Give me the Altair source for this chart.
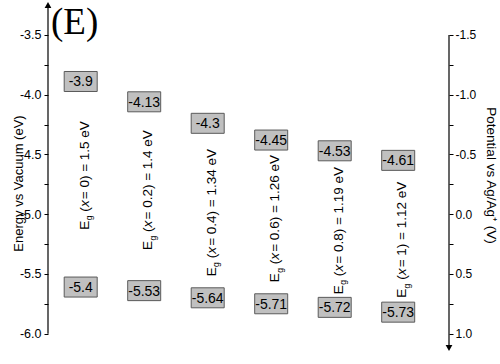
import altair as alt
import pandas as pd

# ---- data ----
compositions = [0, 0.2, 0.4, 0.6, 0.8, 1]
cb_edges = [-3.9, -4.13, -4.3, -4.45, -4.53, -4.61]      # eV (boxes in upper row)
vb_edges = [-5.4, -5.53, -5.64, -5.71, -5.72, -5.73]     # eV (boxes in lower row)
band_gaps = [1.5, 1.4, 1.34, 1.26, 1.19, 1.12]           # eV
# where each value box sits on the energy axis in the figure (eV)
cb_box_ev = [-3.89, -4.06, -4.24, -4.38, -4.47, -4.55]
vb_box_ev = [-5.61, -5.64, -5.70, -5.75, -5.78, -5.82]
# where each rotated band-gap label starts on the energy axis (eV)
gap_text_ev = [-5.13, -5.30, -5.52, -5.57, -5.67, -5.70]

energy_ticks = [-3.5, -3.75, -4.0, -4.25, -4.5, -4.75, -5.0, -5.25, -5.5, -5.75, -6.0]
potential_ticks = [-1.5, -1.25, -1.0, -0.75, -0.5, -0.25, 0.0, 0.25, 0.5, 0.75, 1.0]

E_DOMAIN = [-6.12, -3.25]
X_DOMAIN = [-0.103, 1.16]
P_DOMAIN = [-E_DOMAIN[1] - 5.0, -E_DOMAIN[0] - 5.0]   # potential = -E - 5

FONT = "Liberation Sans"

boxes = pd.DataFrame({
    "comp": compositions + compositions,
    "ev": cb_box_ev + vb_box_ev,
    "label": [f"{v:g}" for v in cb_edges + vb_edges],
})

gaps = pd.DataFrame({
    "comp": compositions,
    "ev": gap_text_ev,
    "rest": [f" = {c:g}) = {g:g} eV" for c, g in zip(compositions, band_gaps)],
})

left_line = pd.DataFrame({"comp": [X_DOMAIN[0]], "ev": [E_DOMAIN[1]], "ev2": [energy_ticks[-1]]})
left_arrow = pd.DataFrame({"comp": [X_DOMAIN[0]], "ev": [E_DOMAIN[1]]})
right_line = pd.DataFrame({"comp": [X_DOMAIN[1]], "pot": [potential_ticks[0]], "pot2": [P_DOMAIN[1]]})
right_arrow = pd.DataFrame({"comp": [X_DOMAIN[1]], "pot": [P_DOMAIN[1]]})
panel = pd.DataFrame({"t": ["(E)"]})

x_enc = alt.X("comp:Q", scale=alt.Scale(domain=X_DOMAIN, nice=False, zero=False), axis=None)

half_expr = "abs(datum.value*2 - round(datum.value*2)) < 0.01"
axis_left = alt.Axis(
    values=energy_ticks, orient="left", domain=False, grid=False,
    ticks=True, tickSize=4, tickColor="black", tickWidth=1,
    labelExpr=f"{half_expr} ? '-' + format(abs(datum.value), '.1f') : ''",
    labelFont=FONT, labelFontSize=12.5, labelColor="black", labelPadding=3, labelOverlap=False,
    title="Energy vs Vacuum (eV)", titleFont=FONT, titleFontSize=13, titleFontWeight="normal",
    titleColor="black", titleAngle=270, titleX=-30, titleY=178, titleAlign="center",
    titleBaseline="middle",
)
axis_right = alt.Axis(
    values=potential_ticks, orient="right", domain=False, grid=False,
    ticks=True, tickSize=4, tickColor="black", tickWidth=1,
    labelExpr=f"{half_expr} ? (datum.value < -0.001 ? '-' : '') + format(abs(datum.value), '.1f') : ''",
    labelFont=FONT, labelFontSize=12, labelColor="black", labelPadding=2, labelOverlap=False,
    title="Potential vs Ag/Ag\u207a (V)", titleFont=FONT, titleFontSize=13.5, titleFontWeight="normal",
    titleColor="black", titleAngle=90, titleX=41, titleY=170, titleAlign="center",
    titleBaseline="middle",
)

y_e = alt.Y("ev:Q", scale=alt.Scale(domain=E_DOMAIN, nice=False, zero=False), axis=axis_left)
y_p = alt.Y("pot:Q", scale=alt.Scale(domain=P_DOMAIN, nice=False, zero=False, reverse=True), axis=axis_right)

box_shape = "M-1,-0.606L1,-0.606L1,0.606L-1,0.606Z"
box_layer = alt.Chart(boxes).mark_point(
    shape=box_shape, size=1089, filled=True, fill="#c0c0c0", stroke="#5a5a5a",
    strokeWidth=1, opacity=1,
).encode(x=x_enc, y=y_e)

box_text = alt.Chart(boxes).mark_text(
    font=FONT, fontSize=14, color="black", align="center", baseline="middle", dy=1,
).encode(x=x_enc, y=y_e, text="label:N")

FS = 13.5
DY = 8
def rot_text(text, dx, dy=DY, size=FS, style="normal"):
    return alt.Chart(gaps).mark_text(
        font=FONT, fontSize=size, fontStyle=style, color="black", angle=270,
        align="left", baseline="alphabetic", dx=dx, dy=dy,
    ).encode(x=x_enc, y=y_e, text=text)

t_E = rot_text(alt.value("E"), 0)
t_g = rot_text(alt.value("g"), 9.4, dy=DY + 3.5, size=8.5)
t_open = rot_text(alt.value("("), 18.0)
t_x = rot_text(alt.value("x"), 22.6, style="italic")
t_rest = rot_text("rest:N", 30.5)

left_rule = alt.Chart(left_line).mark_rule(color="black", strokeWidth=1.2).encode(
    x=x_enc, y=y_e, y2="ev2:Q")
left_tri = alt.Chart(left_arrow).mark_point(
    shape="triangle-up", size=45, filled=True, color="black", opacity=1).encode(x=x_enc, y=y_e)

right_rule = alt.Chart(right_line).mark_rule(color="black", strokeWidth=1.2).encode(
    x=x_enc, y=y_p, y2="pot2:Q")
right_tri = alt.Chart(right_arrow).mark_point(
    shape="triangle-down", size=45, filled=True, color="black", opacity=1).encode(x=x_enc, y=y_p)

panel_text = alt.Chart(panel).mark_text(
    font="Liberation Serif", fontSize=37, color="black", align="left", baseline="alphabetic",
).encode(x=alt.value(3), y=alt.value(28.5), text="t:N")

energy_layers = alt.layer(left_rule, left_tri, box_layer, box_text, t_E, t_g, t_open, t_x, t_rest, panel_text)
potential_layers = alt.layer(right_rule, right_tri)

chart = alt.layer(energy_layers, potential_layers).resolve_scale(y="independent").properties(
    width=401, height=343,
    padding={"left": 48, "top": 5, "right": 51, "bottom": 16},
    autosize=alt.AutoSizeParams(type="none"),
    background="white",
).configure_view(stroke=None)

chart.save("out.html", embed_options={"renderer": "svg", "actions": False})
